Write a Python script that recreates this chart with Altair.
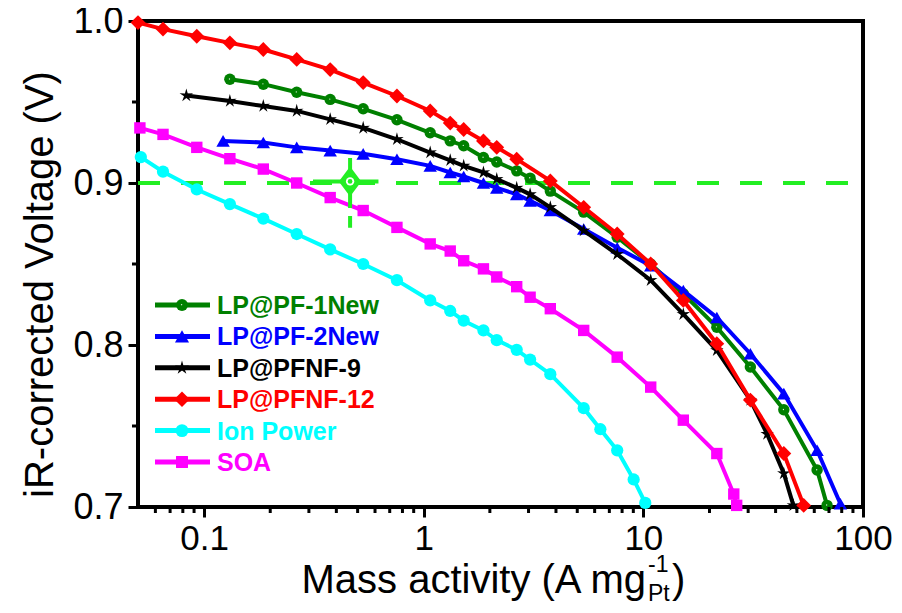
import altair as alt
import pandas as pd

# ---------------- data ----------------
series_names = ["LP@PF-1New", "LP@PF-2New", "LP@PFNF-9", "LP@PFNF-12", "Ion Power", "SOA"]
series_colors = ["#008000", "#0000ff", "#000000", "#ff0000", "#00ffff", "#ff00ff"]

green_x = [0.131, 0.186, 0.264, 0.375, 0.53, 0.755, 1.07, 1.32, 1.52, 1.87, 2.15, 2.65, 3.05, 3.77,
           5.35, 7.6, 10.8, 15.2, 21.6, 30.7, 43.6, 61.8, 68.6]
green_v = [0.964, 0.961, 0.956, 0.9516, 0.9458, 0.939, 0.931, 0.926, 0.923, 0.9157, 0.913, 0.9075, 0.903, 0.895,
           0.882, 0.8665, 0.850, 0.8316, 0.811, 0.7864, 0.760, 0.7228, 0.701]

blue_x = [0.122, 0.186, 0.264, 0.375, 0.53, 0.755, 1.07, 1.32, 1.52, 1.87, 2.15, 2.65, 3.05, 3.77,
          5.35, 7.6, 10.8, 15.2, 21.6, 30.7, 43.6, 61.8, 78.9]
blue_v = [0.926, 0.925, 0.922, 0.920, 0.918, 0.9147, 0.9106, 0.9065, 0.904, 0.900, 0.897, 0.893, 0.889, 0.883,
          0.8716, 0.860, 0.849, 0.8336, 0.817, 0.7946, 0.770, 0.735, 0.702]

black_x = [0.083, 0.131, 0.186, 0.264, 0.375, 0.53, 0.755, 1.07, 1.32, 1.52, 1.87, 2.15, 2.65, 3.05, 3.77,
           5.35, 7.6, 10.8, 15.2, 21.6, 30.7, 36.6, 43.6, 48.2]
black_v = [0.954, 0.9506, 0.9475, 0.9445, 0.9393, 0.934, 0.927, 0.9188, 0.914, 0.9106, 0.9065, 0.9024, 0.897, 0.893, 0.885,
           0.8706, 0.856, 0.840, 0.819, 0.7967, 0.766, 0.745, 0.7207, 0.701]

red_x = [0.05, 0.065, 0.0926, 0.131, 0.186, 0.264, 0.375, 0.53, 0.755, 1.07, 1.32, 1.52, 1.87, 2.15, 2.65, 3.77,
         5.35, 7.6, 10.8, 15.2, 21.6, 30.7, 43.6, 53.7]
red_v = [0.999, 0.995, 0.9906, 0.9865, 0.9824, 0.9763, 0.970, 0.962, 0.9537, 0.9445, 0.937, 0.933, 0.926, 0.922, 0.9147, 0.9013,
         0.885, 0.8685, 0.850, 0.8275, 0.8008, 0.766, 0.733, 0.701]

cyan_x = [0.0515, 0.065, 0.0926, 0.131, 0.186, 0.264, 0.375, 0.53, 0.755, 1.07, 1.32, 1.52, 1.87, 2.15, 2.65, 3.05, 3.77,
          5.35, 6.37, 7.6, 9.03, 10.2]
cyan_v = [0.916, 0.907, 0.896, 0.887, 0.878, 0.8685, 0.859, 0.850, 0.840, 0.8275, 0.821, 0.815, 0.809, 0.803, 0.797, 0.791, 0.782,
          0.761, 0.748, 0.735, 0.717, 0.7025]

magenta_x = [0.051, 0.065, 0.0926, 0.131, 0.186, 0.264, 0.375, 0.53, 0.755, 1.07, 1.32, 1.52, 1.87, 2.15, 2.65, 3.05, 3.77,
             5.35, 7.6, 10.8, 15.2, 21.6, 25.8, 26.6]
magenta_v = [0.934, 0.930, 0.922, 0.915, 0.9086, 0.900, 0.891, 0.883, 0.8726, 0.8624, 0.858, 0.852, 0.847, 0.842, 0.836, 0.8295, 0.8224,
             0.809, 0.7925, 0.774, 0.7536, 0.733, 0.708, 0.701]

series_x = [green_x, blue_x, black_x, red_x, cyan_x, magenta_x]
series_v = [green_v, blue_v, black_v, red_v, cyan_v, magenta_v]

ref_voltage = 0.9
ref_x_range = [0.05, 100]
point_x = 0.462
point_v = 0.901
point_x_err = [0.313, 0.622]
point_v_err = [0.9155, 0.8724]

x_major = [0.1, 1, 10, 100]
x_minor = [0.06, 0.07, 0.08, 0.09, 0.2, 0.3, 0.4, 0.5, 0.6, 0.7, 0.8, 0.9,
           2, 3, 4, 5, 6, 7, 8, 9, 20, 30, 40, 50, 60, 70, 80, 90]
y_major = [0.7, 0.8, 0.9, 1.0]
y_minor = [0.75, 0.85, 0.95]

x_title_main = "Mass activity (A mg"
x_title_sup = "-1"
x_title_sub = "Pt"
x_title_end = ")"
y_title = "iR-corrected Voltage (V)"

# ---------------- styling ----------------
W, H = 725, 486
FONT = "Liberation Sans"
LIME = "#22ee22"
STAR = ("M0,-1 L0.2,-0.28 L0.951,-0.309 L0.33,0.11 L0.588,0.809 L0,0.35 "
        "L-0.588,0.809 L-0.33,0.11 L-0.951,-0.309 L-0.2,-0.28 Z")
TALL_DIAMOND = "M0,-1 L0.75,0 L0,1 L-0.75,0 Z"
HIGHLIGHT = "M0.05,-0.06 A0.12,0.12 0 1,1 -0.19,-0.06 A0.12,0.12 0 1,1 0.05,-0.06 Z"
marker_shapes = ["circle", "triangle-up", STAR, "diamond", "circle", "square"]
marker_sizes = [130, 180, 200, 220, 150, 130]

xs = alt.Scale(type="log", domain=ref_x_range, nice=False)
ys = alt.Scale(domain=[0.7, 1.0], nice=False, zero=False)

x_axis = alt.Axis(values=x_major, format="~g", title=None, grid=False, domain=False,
                  tickSize=10, tickWidth=3, tickColor="black",
                  labelFont=FONT, labelFontSize=35, labelColor="black", labelPadding=4,
                  labelFlush=False, labelOverlap=False)
y_axis = alt.Axis(values=y_major, format=".1f", title=y_title, grid=False, domain=False,
                  tickSize=10, tickWidth=3, tickColor="black",
                  labelFont=FONT, labelFontSize=36, labelColor="black", labelPadding=5,
                  labelFlush=False, labelOverlap=False,
                  titleFont=FONT, titleFontSize=40, titleFontWeight="normal", titleColor="black",
                  titleX=-98, titleY=263, titleAngle=270, titleAlign="center", titleBaseline="middle")


def X(field):
    return alt.X(field, type="quantitative", scale=xs, axis=x_axis)


def Y(field):
    return alt.Y(field, type="quantitative", scale=ys, axis=y_axis)


layers = []

# reference dashed line at 0.9 V
ref_df = pd.DataFrame({"x": [ref_x_range[0]], "x2": [ref_x_range[1]], "v": [ref_voltage]})
layers.append(alt.Chart(ref_df).mark_rule(color=LIME, strokeWidth=4, strokeDash=[22, 21]).encode(
    x=X("x"), x2="x2", y=Y("v")))

# series
for i, name in enumerate(series_names):
    df = pd.DataFrame({"x": series_x[i], "v": series_v[i]})
    col = series_colors[i]
    base = alt.Chart(df)
    layers.append(base.mark_line(color=col, strokeWidth=4).encode(x=X("x"), y=Y("v")))
    layers.append(base.mark_point(shape=marker_shapes[i], size=marker_sizes[i], filled=True,
                                  color=col, opacity=1).encode(x=X("x"), y=Y("v")))
    if i == 0:
        layers.append(base.mark_point(shape=HIGHLIGHT, size=marker_sizes[i], filled=True,
                                      color="#e8f8e8", opacity=0.95).encode(x=X("x"), y=Y("v")))

# point with error bars
pt_df = pd.DataFrame({"x": [point_x], "v": [point_v], "xl": [point_x_err[0]], "xh": [point_x_err[1]],
                      "vt": [point_v_err[0]], "vb": [point_v_err[1]]})
pt = alt.Chart(pt_df)
layers.append(pt.mark_rule(color=LIME, strokeWidth=4).encode(x=X("xl"), x2="xh", y=Y("v")))
layers.append(pt.mark_rule(color=LIME, strokeWidth=4, strokeDash=[50, 8]).encode(x=X("x"), y=Y("vt"), y2="vb"))
layers.append(pt.mark_point(shape=TALL_DIAMOND, size=900, filled=True, color=LIME, opacity=1).encode(x=X("x"), y=Y("v")))
layers.append(pt.mark_point(shape="circle", size=70, filled=True, color="white", opacity=1).encode(x=X("x"), y=Y("v")))
layers.append(pt.mark_point(shape="circle", size=22, filled=True, color=LIME, opacity=1).encode(x=X("x"), y=Y("v")))

# minor ticks
xm_df = pd.DataFrame({"x": x_minor})
layers.append(alt.Chart(xm_df).mark_rule(color="black", strokeWidth=3).encode(
    x=X("x"), y=alt.value(H), y2=alt.value(H + 6)))
ym_df = pd.DataFrame({"v": y_minor})
layers.append(alt.Chart(ym_df).mark_rule(color="black", strokeWidth=3).encode(
    y=Y("v"), x=alt.value(0), x2=alt.value(-6)))

# manual legend
for i, name in enumerate(series_names):
    ldf = pd.DataFrame({"name": [name]})
    ly = 284 + i * 31.4
    col = series_colors[i]
    lb = alt.Chart(ldf)
    layers.append(lb.mark_rule(color=col, strokeWidth=5).encode(
        x=alt.value(17), x2=alt.value(72), y=alt.value(ly)))
    layers.append(lb.mark_point(shape=marker_shapes[i], size=marker_sizes[i] * 1.1, filled=True,
                                color=col, opacity=1).encode(x=alt.value(44), y=alt.value(ly)))
    if i == 0:
        layers.append(lb.mark_point(shape=HIGHLIGHT, size=marker_sizes[i] * 1.1, filled=True,
                                    color="#e8f8e8", opacity=0.95).encode(x=alt.value(44), y=alt.value(ly)))
    layers.append(lb.mark_text(font=FONT, fontSize=25, fontWeight="bold", color=col, align="left",
                               baseline="middle").encode(
        x=alt.value(79), y=alt.value(ly + 1), text="name:N"))

# x-axis title with super/subscript
tdf = pd.DataFrame({"a": [x_title_main], "b": [x_title_sup], "c": [x_title_sub], "d": [x_title_end]})
tb = alt.Chart(tdf)
layers.append(tb.mark_text(font=FONT, fontSize=40, color="black", align="right", baseline="alphabetic").encode(
    x=alt.value(508), y=alt.value(572), text="a:N"))
layers.append(tb.mark_text(font=FONT, fontSize=23, color="black", align="left", baseline="alphabetic").encode(
    x=alt.value(510), y=alt.value(551), text="b:N"))
layers.append(tb.mark_text(font=FONT, fontSize=23, color="black", align="left", baseline="alphabetic").encode(
    x=alt.value(510), y=alt.value(580), text="c:N"))
layers.append(tb.mark_text(font=FONT, fontSize=40, color="black", align="left", baseline="alphabetic").encode(
    x=alt.value(534), y=alt.value(572), text="d:N"))

chart = alt.layer(*layers).properties(
    width=W, height=H,
    padding={"left": 130, "top": 13, "right": 30, "bottom": 100},
    autosize=alt.AutoSizeParams(type="none"),
    background="white",
).configure_view(stroke="black", strokeWidth=4)

chart.save("out.html", embed_options={"renderer": "svg", "actions": False})
